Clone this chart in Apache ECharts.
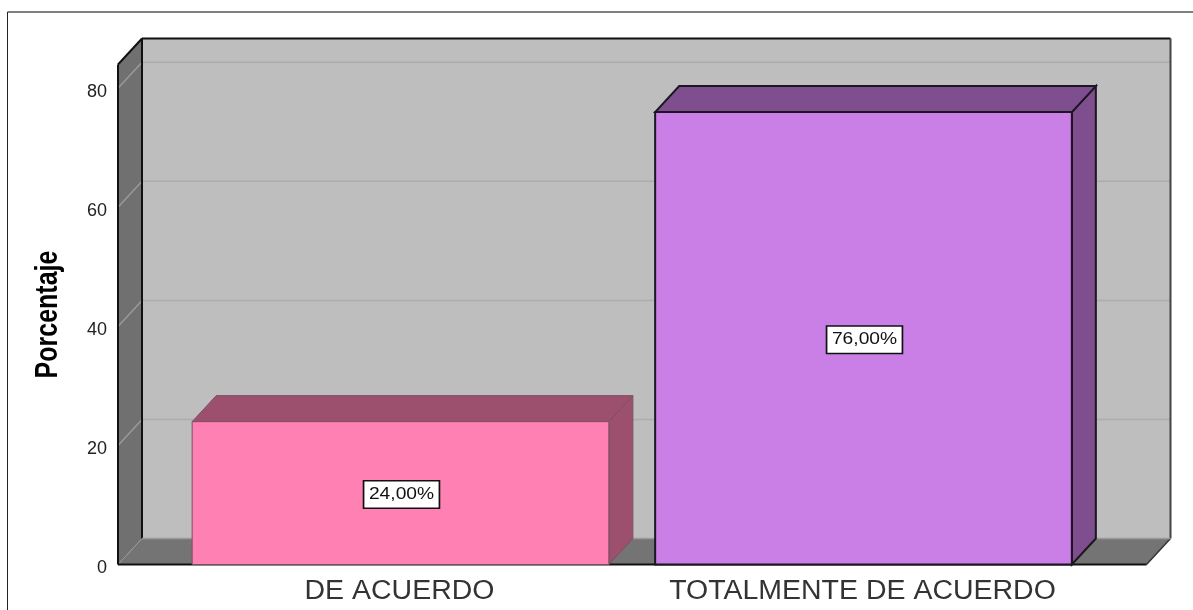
<!DOCTYPE html>
<html>
<head>
<meta charset="utf-8">
<script src="https://cdn.jsdelivr.net/npm/echarts@6/dist/echarts.min.js"></script>
<style>
  html, body { margin: 0; background: #fff; }
  #chart { width: 1193px; height: 610px; }
</style>
</head>
<body>
<div id="chart"></div>
<script>
const categories = ["DE ACUERDO", "TOTALMENTE DE ACUERDO"];
const percentages = [24, 76];
const valueLabels = ["24,00%", "76,00%"];
const yTicks = [20, 40, 60, 80];

const frontColors = ["#ff80b2", "#c97fe6"];
const shadeColors = ["#9c506e", "#7e4e8e"];
const edgeColors = ["#7b5064", "#1c1620"];

// depth of the fake 3d box, in pixels
const DX = 24;
const DY = 26;
const WALL_SIDE_LEFT = 51;
const WALL_SIDE_RIGHT = 51.5;

const chart = echarts.init(document.getElementById("chart"));

function poly(points, fill, stroke, lineWidth) {
  return {
    type: "polygon",
    shape: { points },
    style: { fill, stroke: stroke || "none", lineWidth: lineWidth || 0 },
  };
}

function line(x1, y1, x2, y2, stroke, lineWidth) {
  return { type: "line", shape: { x1, y1, x2, y2 }, style: { stroke, lineWidth } };
}

function renderWalls(params, api) {
  const rect = params.coordSys;
  const left = rect.x - WALL_SIDE_LEFT;
  const right = rect.x + rect.width + WALL_SIDE_RIGHT;
  const top = rect.y;
  const bottom = rect.y + rect.height;
  const children = [
    poly([[left + DX, top - DY], [right + DX, top - DY], [right + DX, bottom - DY], [left + DX, bottom - DY]], "#bebebe"),
    poly([[left, top], [left + DX, top - DY], [left + DX, bottom - DY], [left, bottom]], "#707070"),
    poly([[left, bottom], [left + DX, bottom - DY], [right + DX, bottom - DY], [right, bottom]], "#747474"),
  ];
  yTicks.forEach((tick) => {
    const y = api.coord([0, tick])[1];
    children.push(line(left, y, left + DX, y - DY, "#9a9a9a", 1.5));
    children.push(line(left + DX, y - DY, right + DX, y - DY, "#acacac", 1.5));
  });
  children.push(line(left, bottom, left + DX, bottom - DY, "#999999", 1));
  children.push(line(left, top, left + DX, top - DY, "#111", 2));
  children.push(line(left, top, left, bottom, "#111", 2));
  children.push(line(left + DX, top - DY, left + DX, bottom - DY, "#111", 2));
  children.push(line(left + DX, top - DY, right + DX, top - DY, "#111", 2));
  children.push(line(right + DX, top - DY, right + DX, bottom - DY, "#444", 2));
  children.push(line(right + DX, bottom - DY, right, bottom, "#333", 1.5));
  children.push(line(left, bottom, right, bottom, "#111", 2));
  children.push(line(left + DX, bottom - DY, right + DX, bottom - DY, "#9a9a9a", 1.5));
  return { type: "group", children };
}

function renderBar(params, api) {
  const i = api.value(0);
  const base = api.coord([i, 0]);
  const head = api.coord([i, api.value(1)]);
  const half = api.size([1, 0])[0] * 0.45;
  const x0 = base[0] - half;
  const x1 = base[0] + half;
  const y0 = head[1];
  const y1 = base[1];
  const edge = edgeColors[i];
  const w = i === 0 ? 1 : 2;
  return {
    type: "group",
    children: [
      poly([[x1, y0], [x1 + DX, y0 - DY], [x1 + DX, y1 - DY], [x1, y1]], shadeColors[i], edge, w),
      poly([[x0, y0], [x0 + DX, y0 - DY], [x1 + DX, y0 - DY], [x1, y0]], shadeColors[i], edge, w),
      poly([[x0, y0], [x1, y0], [x1, y1], [x0, y1]], frontColors[i], edge, w),
      {
        type: "text",
        x: base[0] + 1,
        y: (y0 + y1) / 2 + 1.5,
        scaleX: 1.13,
        style: {
          text: valueLabels[i],
          fontFamily: "Liberation Sans",
          fontSize: 17,
          fill: "#111",
          align: "center",
          verticalAlign: "middle",
          backgroundColor: "#fff",
          borderColor: "#111",
          borderWidth: 1.5,
          padding: [5, 4, 4, 4],
        },
      },
      // the reference text is wider than any installed font, so it is stretched
      {
        type: "text",
        x: base[0] - 1,
        y: y1 + 27,
        scaleX: 1.055,
        style: {
          text: categories[i],
          fontFamily: "Liberation Sans",
          fontSize: 27,
          fill: "#333",
          align: "center",
          verticalAlign: "middle",
        },
      },
    ],
  };
}

chart.setOption({
  animation: false,
  backgroundColor: "#fff",
  textStyle: { fontFamily: "Liberation Sans" },
  grid: { left: 169, right: 98, top: 64.5, bottom: 45.5 },
  graphic: [
    { type: "line", shape: { x1: 7.5, y1: 12, x2: 1193, y2: 12 }, style: { stroke: "#555", lineWidth: 1.5 } },
    { type: "line", shape: { x1: 7.5, y1: 12, x2: 7.5, y2: 610 }, style: { stroke: "#222", lineWidth: 1 } },
    {
      type: "text",
      x: 48,
      y: 314.5,
      rotation: Math.PI / 2,
      scaleY: 1.25,
      style: {
        text: "Porcentaje",
        fontFamily: "Liberation Sans",
        fontWeight: "bold",
        fontSize: 25,
        fill: "#000",
        align: "center",
        verticalAlign: "middle",
      },
    },
  ],
  xAxis: {
    type: "category",
    data: categories,
    axisLine: { show: false },
    axisTick: { show: false },
    axisLabel: { show: false },
  },
  yAxis: {
    type: "value",
    min: 0,
    max: 84,
    interval: 20,
    offset: WALL_SIDE_LEFT,
    axisLine: { show: false },
    axisTick: { show: false },
    splitLine: { show: false },
    axisLabel: { fontSize: 18, color: "#222", margin: 11, showMaxLabel: false, verticalAlign: "top", lineHeight: 7 },
  },
  series: [
    { type: "custom", renderItem: renderWalls, data: [[0, 0]], silent: true, z: 1 },
    {
      type: "custom",
      renderItem: renderBar,
      data: percentages.map((value, i) => [i, value]),
      encode: { x: 0, y: 1 },
      z: 2,
    },
  ],
});
</script>
</body>
</html>
